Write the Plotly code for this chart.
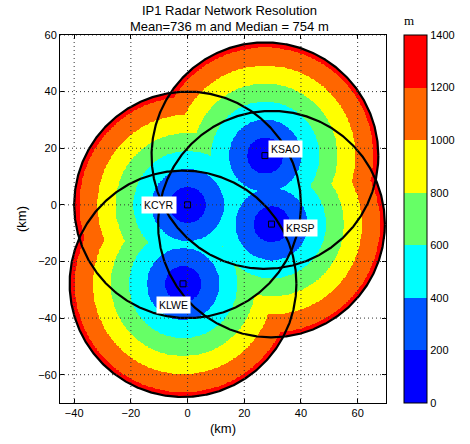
import numpy as np
import plotly.graph_objects as go

# ---- data ----
radar_names = ["KSAO", "KCYR", "KRSP", "KLWE"]
radar_x_km = [27.3, 0.0, 29.6, -1.6]
radar_y_km = [17.4, 0.0, -6.8, -27.9]
max_range_km = 40.0
beamwidth_deg = 1.8
levels_m = [0, 200, 400, 600, 800, 1000, 1200, 1400]
band_colors = ["#0000FF", "#0055FF", "#00FFFF", "#66FF66", "#FFFF00", "#FF6600", "#FF0000"]
x_ticks = [-40, -20, 0, 20, 40, 60]
y_ticks = [-60, -40, -20, 0, 20, 40, 60]
x_range = [-45, 70]
y_range = [-70, 60]
title_lines = ["IP1 Radar Network Resolution", "Mean=736 m and Median = 754 m"]

# ---- resolution field: nearest-radar cross-beam resolution ----
step = 0.25
gx = np.arange(x_range[0], x_range[1] + step / 2, step)
gy = np.arange(y_range[0], y_range[1] + step / 2, step)
XX, YY = np.meshgrid(gx, gy)
dist = np.min(np.stack([np.hypot(XX - rx, YY - ry) for rx, ry in zip(radar_x_km, radar_y_km)]), axis=0)
res = dist * np.deg2rad(beamwidth_deg) * 1000.0  # metres (dist in km)
zvals = np.where(dist <= max_range_km, np.round(res, 0), np.nan)
zlist = [[None if np.isnan(v) else float(v) for v in row] for row in zvals]

n = len(band_colors)
cs = []
for i, c in enumerate(band_colors):
    cs.append([i / n, c])
    cs.append([(i + 1) / n, c])

fig = go.Figure()
fig.add_trace(go.Heatmap(
    x=gx, y=gy, z=zlist, zmin=levels_m[0], zmax=levels_m[-1],
    colorscale=cs, zsmooth=False, hoverinfo="skip",
    colorbar=dict(
        x=(404 - 60) / 326, xanchor="left", xpad=0, ypad=0,
        y=0.5, yanchor="middle", len=1, lenmode="fraction",
        thickness=23, thicknessmode="pixels",
        tickvals=levels_m, ticktext=[str(v) for v in levels_m],
        ticks="", tickfont=dict(family="Liberation Sans", size=11, color="black"),
        outlinecolor="black", outlinewidth=1,
    ),
))

# range rings
theta = np.linspace(0, 2 * np.pi, 721)
for rx, ry in zip(radar_x_km, radar_y_km):
    fig.add_trace(go.Scatter(
        x=rx + max_range_km * np.cos(theta), y=ry + max_range_km * np.sin(theta),
        mode="lines", line=dict(color="black", width=2.2), hoverinfo="skip", showlegend=False))

fig.add_trace(go.Scatter(
    x=radar_x_km, y=radar_y_km, mode="markers",
    marker=dict(symbol="square-open", size=6, color="black", line=dict(width=1)),
    hoverinfo="skip", showlegend=False))

# labels (offsets relative to radar position)
label_off = {"KSAO": (7.2, 2.4), "KCYR": (-10.1, -0.2), "KRSP": (10.2, -1.4), "KLWE": (-3.5, -7.6)}
for name, rx, ry in zip(radar_names, radar_x_km, radar_y_km):
    dx, dy = label_off[name]
    fig.add_annotation(x=rx + dx, y=ry + dy, xref="x", yref="y", text=name, showarrow=False,
                       font=dict(family="Liberation Sans", size=10.5, color="black"),
                       bgcolor="white", borderpad=2)

shapes = []
# dotted grid above fill
for xv in x_ticks:
    shapes.append(dict(type="line", xref="x", yref="y", x0=xv, x1=xv, y0=y_range[0], y1=y_range[1],
                       line=dict(color="#333333", width=1, dash="1px,3px"), layer="above"))
for yv in y_ticks:
    shapes.append(dict(type="line", xref="x", yref="y", x0=x_range[0], x1=x_range[1], y0=yv, y1=yv,
                       line=dict(color="#333333", width=1, dash="1px,3px"), layer="above"))
# colorbar band separators
cb_x0 = (404 - 60) / 326
cb_x1 = cb_x0 + 23 / 326
for k in range(1, n):
    shapes.append(dict(type="line", xref="paper", yref="paper", x0=cb_x0, x1=cb_x1, y0=k / n, y1=k / n,
                       line=dict(color="black", width=1), layer="above"))

fig.update_layout(shapes=shapes)

# titles
fig.add_annotation(x=(229 - 60) / 326, y=1 + 24 / 368, xref="paper", yref="paper", text=title_lines[0],
                   showarrow=False, yanchor="middle", font=dict(family="Liberation Sans", size=13, color="black"))
fig.add_annotation(x=(229 - 60) / 326, y=1 + 9 / 368, xref="paper", yref="paper", text=title_lines[1],
                   showarrow=False, yanchor="middle", font=dict(family="Liberation Sans", size=13, color="black"))
fig.add_annotation(x=(415.7 - 60) / 326, y=1 + 14 / 368, xref="paper", yref="paper", text="m",
                   showarrow=False, yanchor="middle", font=dict(family="Liberation Serif", size=13, color="black"))

axis_common = dict(showgrid=False, zeroline=False, showline=True, linecolor="black", linewidth=1,
                   mirror="ticks", ticks="inside", ticklen=4, tickcolor="black",
                   tickfont=dict(family="Liberation Sans", size=11, color="black"))
fig.update_xaxes(range=x_range, tickvals=x_ticks, title=dict(text="(km)", standoff=5,
                 font=dict(family="Liberation Sans", size=13, color="black")), **axis_common)
fig.update_yaxes(range=y_range, tickvals=y_ticks, title=dict(text="(km)", standoff=8,
                 font=dict(family="Liberation Sans", size=13, color="black")), **axis_common)

fig.update_layout(width=470, height=444, margin=dict(l=60, r=84, t=35, b=41),
                  paper_bgcolor="white", plot_bgcolor="white", showlegend=False)

fig.write_html("out.html", config={"displayModeBar": False},
               post_script="document.body.style.margin='0';document.body.style.padding='0';")
